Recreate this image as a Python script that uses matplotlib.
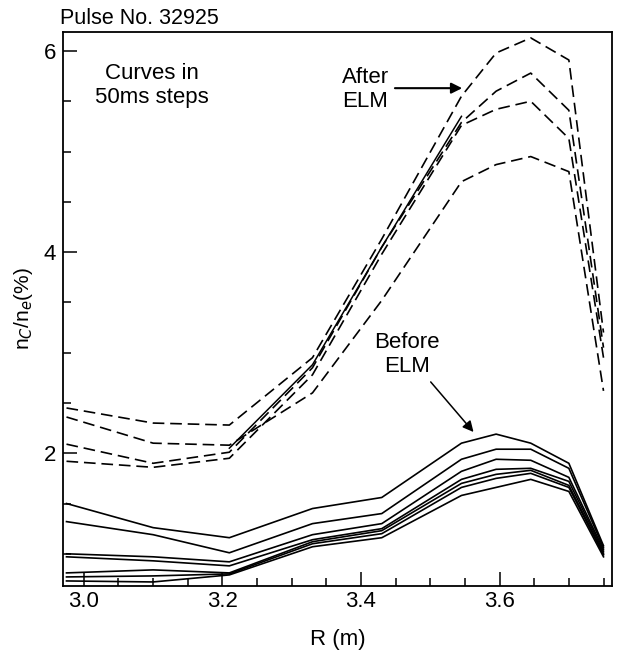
import numpy as np
import matplotlib
matplotlib.use("Agg")
import matplotlib.pyplot as plt
from matplotlib.ticker import MultipleLocator

plt.rcParams['font.family'] = ['Liberation Sans', 'DejaVu Sans']

# radial positions of the profile points (m)
R = [2.975, 3.10, 3.21, 3.33, 3.43, 3.545, 3.595, 3.645, 3.70, 3.75]

# before ELM (solid), n_C/n_e in %
before_1 = [1.50, 1.26, 1.16, 1.45, 1.56, 2.10, 2.19, 2.10, 1.90, 1.08]
before_2 = [1.32, 1.19, 1.01, 1.30, 1.40, 1.94, 2.04, 2.04, 1.85, 1.06]
before_3 = [1.00, 0.97, 0.92, 1.19, 1.30, 1.82, 1.94, 1.93, 1.76, 1.04]
before_4 = [0.97, 0.93, 0.88, 1.14, 1.25, 1.74, 1.84, 1.85, 1.72, 1.02]
before_5 = [0.81, 0.84, 0.81, 1.12, 1.23, 1.70, 1.79, 1.83, 1.68, 1.00]
before_6 = [0.77, 0.78, 0.80, 1.10, 1.20, 1.66, 1.75, 1.80, 1.66, 0.99]
before_7 = [0.73, 0.72, 0.79, 1.07, 1.16, 1.58, 1.66, 1.74, 1.62, 0.97]

# after ELM (dashed)
after_1 = [2.45, 2.30, 2.28, 2.95, 4.13, 5.55, 5.98, 6.13, 5.91, 3.20]
after_2 = [2.09, 1.90, 2.01, 2.85, 4.05, 5.29, 5.60, 5.78, 5.41, 3.05]
after_3 = [1.92, 1.86, 1.95, 2.78, 3.98, 5.26, 5.42, 5.50, 5.13, 2.95]
after_4 = [2.36, 2.10, 2.08, 2.60, 3.52, 4.70, 4.87, 4.95, 4.80, 2.62]

# solid curve drawn only over the rise
transition = [np.nan, np.nan, 2.05, 2.88, 4.05, 5.35, np.nan, np.nan, np.nan, np.nan]

fig = plt.figure(figsize=(6.18, 6.5), dpi=100)
ax = fig.add_axes([0.102, 0.0985, 0.888, 0.8525])

for y in [before_1, before_2, before_3, before_4, before_5, before_6, before_7]:
    ax.plot(R, y, color='black', lw=1.2)

for y in [after_1, after_2, after_3, after_4]:
    ax.plot(R, y, color='black', lw=1.2, dashes=(7, 3.5))

ax.plot(R, transition, color='black', lw=1.1)

ax.set_xlim(2.97, 3.762)
ax.set_ylim(0.68, 6.19)

ax.xaxis.set_major_locator(MultipleLocator(0.2))
ax.xaxis.set_minor_locator(MultipleLocator(0.05))
ax.yaxis.set_major_locator(MultipleLocator(2))
ax.yaxis.set_minor_locator(MultipleLocator(0.5))
ax.tick_params(which='both', direction='in', top=False, right=False,
               labelsize=16, width=1.1)
ax.tick_params(which='major', length=10)
ax.tick_params(which='minor', length=6)
ax.tick_params(axis='y', pad=5)
ax.xaxis.set_major_formatter(plt.FuncFormatter(lambda v, p: "%.1f" % v))
ax.yaxis.set_major_formatter(plt.FuncFormatter(lambda v, p: "%d" % v))

for s in ax.spines.values():
    s.set_linewidth(1.3)

ax.set_xlabel("R (m)", fontsize=16, labelpad=12)
ax.set_ylabel(r"n$_C$/n$_e$(%)", fontsize=15, labelpad=6)

fig.text(0.097, 0.972, "Pulse No. 32925", fontsize=15.5, ha='left', va='center')

ax.text(3.098, 5.66, "Curves in\n50ms steps", fontsize=16, ha='center',
        va='center', linespacing=1.2)

ax.text(3.373, 5.615, "After\nELM", fontsize=16, ha='left', va='center',
        linespacing=1.2)
ax.annotate("", xy=(3.55, 5.63), xytext=(3.445, 5.63),
            arrowprops=dict(arrowstyle='-|>', color='black', lw=1.5,
                            mutation_scale=16))

ax.text(3.466, 2.98, "Before\nELM", fontsize=16, ha='center', va='center',
        linespacing=1.2)
ax.annotate("", xy=(3.565, 2.19), xytext=(3.498, 2.73),
            arrowprops=dict(arrowstyle='-|>', color='black', lw=1.1,
                            mutation_scale=16))

fig.savefig("out.png", dpi=100)
